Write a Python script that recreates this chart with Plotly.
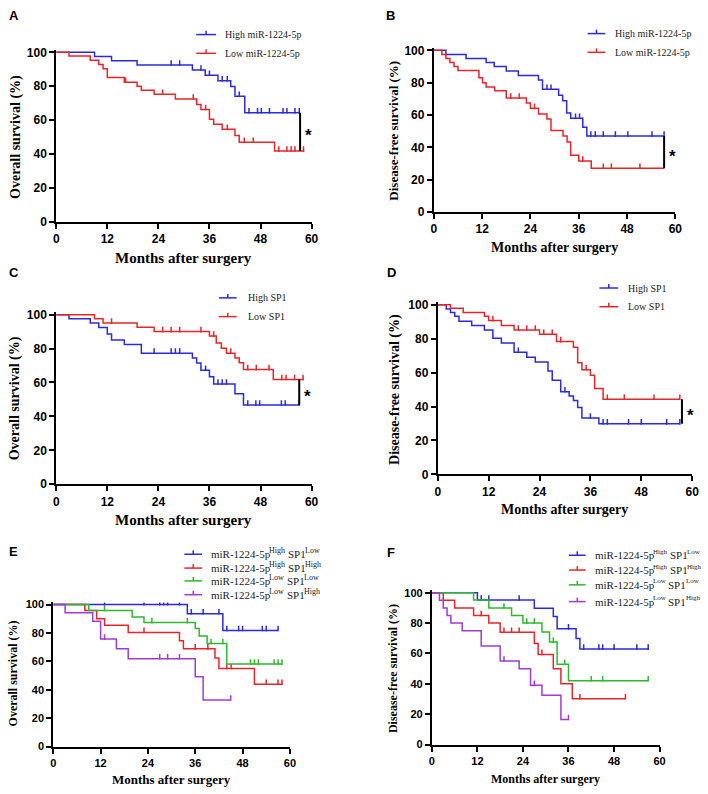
import plotly.graph_objects as go

W, H = 708, 794

BLUE = '#2b2bdc'
RED = '#e5262b'
GREEN = '#2fb82f'
PURPLE = '#a03ad8'

MONTH_TICKS = [0, 12, 24, 36, 48, 60]
PCT_TICKS = [0, 20, 40, 60, 80, 100]

# ---------------- Panel A : Overall survival, miR-1224-5p ----------------
A_high_t = [9, 13, 19, 32, 35, 38, 41, 42, 44.3]
A_high_s = [97.5, 95, 92.5, 89.6, 86.5, 83.2, 79.9, 74.1, 64.4]
A_high_c = [27, 29, 34, 36, 39, 40.2, 43, 45.3, 47.3, 48.2, 50.1, 53.3, 54.2, 56.1, 57.1]
A_high_end = 57.3
A_low_t = [3, 8, 10, 11, 12, 16, 19, 20, 23, 28, 33, 34, 36, 37, 39, 42, 43, 51.3]
A_low_s = [97.9, 95.4, 92.8, 90.3, 85.1, 82.4, 80, 77.6, 75.3, 72.5, 69.2, 66.3, 60.5, 57.6, 54.7, 50.9, 47, 41.8]
A_low_c = [16.3, 25, 32.2, 35.1, 40.2, 44.2, 46.3, 52.3, 54.2, 55.2, 56.1, 58.1]
A_low_end = 58.3
A_sig = [57.3, 64.4, 41.8]

# ---------------- Panel B : Disease-free survival, miR-1224-5p ----------------
B_high_t = [3, 8, 13, 15, 18, 21, 26, 27, 31, 32, 33, 34, 37, 38]
B_high_s = [97.5, 95, 92.5, 90, 87.2, 84.5, 81.7, 76, 72.3, 68.8, 61.3, 58, 52.5, 47]
B_high_c = [28.1, 29.1, 35.2, 36.2, 39, 40.1, 42.1, 45.1, 48.2, 54.2, 57.2]
B_high_end = 57.2
B_low_t = [2, 3, 4, 5, 6, 11.2, 12.1, 13, 15.1, 18, 23, 24, 26, 28.1, 29.1, 32.1, 33.1, 34, 36, 39.1]
B_low_s = [97.5, 95, 92.5, 90, 87.5, 83, 80, 77.4, 75, 70.5, 67.4, 64.2, 60.7, 57.6, 50.5, 47, 43.4, 35.2, 31.6, 27.1]
B_low_c = [19.1, 21.2, 25, 37, 42.1, 44.1, 51.2]
B_low_end = 57.2
B_sig = [57.2, 47, 27.1]

# ---------------- Panel C : Overall survival, SP1 ----------------
C_high_t = [3, 8, 10, 12, 13, 16, 20, 32, 33, 34, 36, 37, 42, 44]
C_high_s = [97.5, 95, 92.4, 88.6, 85, 82.4, 77.3, 74.4, 71.5, 67.2, 63.4, 59.1, 53.3, 46.7]
C_high_c = [23, 27, 28, 29, 35.1, 38, 39, 40, 45, 46.9, 47.8, 52.9, 53.8, 57.1]
C_high_end = 57.1
C_low_t = [9, 11, 19, 23, 36, 37.6, 38.8, 40, 42, 43, 44, 51]
C_low_s = [97.5, 95, 92.5, 90, 87.4, 83.3, 80.2, 77.3, 74.4, 71.7, 67.6, 61.8]
C_low_c = [13, 25, 27, 29, 34, 37, 41, 45, 47, 50, 53, 54, 56, 58]
C_low_end = 58.2
C_sig = [57.1, 61.8, 46.7]

# ---------------- Panel D : Disease-free survival, SP1 ----------------
D_high_t = [2, 3, 4, 5, 8, 11, 13, 15, 18, 21, 23, 26, 27, 29, 31, 32, 33, 34, 38]
D_high_s = [97.5, 95.5, 93.2, 90.3, 87.8, 85.1, 80.3, 77.4, 72, 69, 66.2, 60.9, 55.5, 48.7, 46.2, 43.5, 39.5, 33.3, 29.8]
D_high_c = [19, 30, 36, 39, 40, 45, 48, 54, 57.1]
D_high_end = 57.1
D_low_t = [3, 6, 11, 12, 15, 18, 24, 28, 32, 33, 34, 36, 37, 39]
D_low_s = [97.9, 95.5, 93.2, 90.7, 87.8, 85.1, 82.6, 78.3, 74.9, 65.8, 61.7, 58.4, 50.7, 44.3]
D_low_c = [13, 19, 21, 23, 25, 27, 29, 35, 40, 44, 51, 57.1]
D_low_end = 57.1
D_sig = [57.6, 44.3, 29.8]

# ---------------- Panel E : Overall survival, combined ----------------
E_hl_t = [34, 43]
E_hl_s = [93.5, 81.8]
E_hl_c = [13, 23, 27, 28, 29, 32, 35, 38, 42, 44, 47, 48, 53, 54, 57]
E_hl_end = 57
E_hh_t = [8, 11, 13, 19, 32, 33, 41, 42, 51]
E_hh_s = [95.8, 90, 85.5, 80.4, 74.6, 68.8, 62.4, 55, 43.9]
E_hh_c = [23, 36, 39.2, 44, 45.1, 54, 57, 58]
E_hh_end = 58.2
E_ll_t = [9, 20, 23, 36, 37, 39, 44]
E_ll_s = [95.8, 91.2, 87.3, 83.1, 77.8, 72.6, 58.2]
E_ll_c = [13, 25, 34, 40, 43, 50, 51, 52, 56, 57, 58]
E_ll_end = 58.2
E_lh_t = [3, 10, 12, 16, 19, 36, 38]
E_lh_s = [94.2, 88.2, 75.7, 68.8, 61.9, 49.2, 32.8]
E_lh_c = [13, 27, 29, 32, 45]
E_lh_end = 45

# ---------------- Panel F : Disease-free survival, combined ----------------
F_hl_t = [12, 27, 32, 33, 38, 39]
F_hl_s = [95.2, 89.8, 84.4, 76.2, 69.8, 62.9]
F_hl_c = [13, 15, 23, 36, 40, 44, 45, 48, 54, 57]
F_hl_end = 57
F_hh_t = [3, 6, 11, 15, 18, 27, 28, 32, 34, 37]
F_hh_s = [95, 90, 85, 80, 74, 66.5, 59.4, 49.9, 40, 30.2]
F_hh_c = [13, 19, 21, 23, 29, 39, 51]
F_hh_end = 51
F_ll_t = [11, 15, 21, 24, 29, 31, 33, 36]
F_ll_s = [95.2, 90, 85, 80, 74.1, 67.6, 52.9, 42.1]
F_ll_c = [19, 25, 27, 32, 35, 42, 45, 57]
F_ll_end = 57
F_lh_t = [2, 3, 4, 5, 8, 13, 18, 23, 26, 29, 34]
F_lh_s = [95, 90, 85, 80, 75, 65, 55, 50, 39, 32.5, 16.5]
F_lh_c = [19, 27, 36]
F_lh_end = 36

NAMES_MIR = ['High miR-1224-5p', 'Low miR-1224-5p']
NAMES_SP1 = ['High SP1', 'Low SP1']
# combined groups: (base, superscript, base, superscript)
NAMES_COMB = [('miR-1224-5p', 'High', 'SP1', 'Low'),
              ('miR-1224-5p', 'High', 'SP1', 'High'),
              ('miR-1224-5p', 'Low', 'SP1', 'Low'),
              ('miR-1224-5p', 'Low', 'SP1', 'High')]

OS_TITLE = 'Overall survival (%)'
DFS_TITLE = 'Disease-free survival (%)'
X_TITLE = 'Months after surgery'

# pixel layout per panel (style only)
panels = [
    dict(letter='A', letpos=(4, 12), x0=54, x60=313, y0=221, y100=49,
         curves=[(A_high_t, A_high_s, A_high_c, A_high_end, BLUE),
                 (A_low_t, A_low_s, A_low_c, A_low_end, RED)],
         names=NAMES_MIR, sig=A_sig, ytitle=OS_TITLE,
         xt=(183, 258, 15), yt=(13, 135, 14), tick=12,
         leg=dict(lx=(196, 216), tx=223, rows=[31, 50], size=10)),
    dict(letter='B', letpos=(386, 12), x0=437, x60=682, y0=211, y100=47,
         curves=[(B_high_t, B_high_s, B_high_c, B_high_end, BLUE),
                 (B_low_t, B_low_s, B_low_c, B_low_end, RED)],
         names=NAMES_MIR, sig=B_sig, ytitle=DFS_TITLE,
         xt=(559, 247, 14), yt=(396, 128, 13), tick=12,
         leg=dict(lx=(593, 611), tx=619, rows=[30, 49], size=10)),
    dict(letter='C', letpos=(4, 272), x0=54, x60=313, y0=487, y100=315,
         curves=[(C_high_t, C_high_s, C_high_c, C_high_end, BLUE),
                 (C_low_t, C_low_s, C_low_c, C_low_end, RED)],
         names=NAMES_SP1, sig=C_sig, ytitle=OS_TITLE,
         xt=(183, 523, 15), yt=(13, 400, 14), tick=12,
         leg=dict(lx=(219, 237), tx=246, rows=[298, 317], size=10)),
    dict(letter='D', letpos=(387, 272), x0=441, x60=699, y0=477, y100=305,
         curves=[(D_high_t, D_high_s, D_high_c, D_high_end, BLUE),
                 (D_low_t, D_low_s, D_low_c, D_low_end, RED)],
         names=NAMES_SP1, sig=D_sig, ytitle=DFS_TITLE,
         xt=(570, 513, 14), yt=(397, 391, 14), tick=12,
         leg=dict(lx=(605, 624), tx=632, rows=[288, 307], size=10)),
    dict(letter='E', letpos=(4, 555), x0=51, x60=291, y0=753, y100=609,
         curves=[(E_hl_t, E_hl_s, E_hl_c, E_hl_end, BLUE),
                 (E_hh_t, E_hh_s, E_hh_c, E_hh_end, RED),
                 (E_ll_t, E_ll_s, E_ll_c, E_ll_end, GREEN),
                 (E_lh_t, E_lh_s, E_lh_c, E_lh_end, PURPLE)],
         names=NAMES_COMB, sig=None, ytitle=OS_TITLE,
         xt=(171, 786, 13), yt=(10, 679, 12), tick=11,
         leg=dict(lx=(184, 202), tx=209, rows=[558, 572, 585, 599], size=11, sup=8)),
    dict(letter='F', letpos=(387, 556), x0=435, x60=666, y0=751, y100=597,
         curves=[(F_hl_t, F_hl_s, F_hl_c, F_hl_end, BLUE),
                 (F_hh_t, F_hh_s, F_hh_c, F_hh_end, RED),
                 (F_ll_t, F_ll_s, F_ll_c, F_ll_end, GREEN),
                 (F_lh_t, F_lh_s, F_lh_c, F_lh_end, PURPLE)],
         names=NAMES_COMB, sig=None, ytitle=DFS_TITLE,
         xt=(550, 786, 12), yt=(395, 674, 12), tick=11,
         leg=dict(lx=(574, 591), tx=598, rows=[559, 574, 589, 606], size=11, sup=7)),
]

# Times/Liberation Serif advance widths (em) for laying out superscript legend text
TW = {'m': .778, 'i': .278, 'R': .667, '-': .333, '1': .5, '2': .5, '4': .5, '5': .5,
      'p': .5, ' ': .25, 'S': .556, 'P': .556, 'H': .722, 'g': .5, 'h': .5,
      'L': .611, 'o': .5, 'w': .722}


def text_w(s, size):
    return sum(TW.get(ch, .5) for ch in s) * size


def surv_at(times, values, t):
    v = 100
    for te, sv in zip(times, values):
        if te <= t:
            v = sv
    return v


def px_x(p):
    return p / W


def px_y(p):
    return 1 - p / H


def text_ann(xp, yp, text, size, family='Liberation Serif', color='#222222', anchor='left'):
    return dict(x=px_x(xp), y=px_y(yp), xref='paper', yref='paper', text=text,
                showarrow=False, xanchor=anchor, yanchor='middle',
                font=dict(family=family, size=size, color=color))


fig = go.Figure()
shapes = []
annotations = []
layout_axes = {}
YTOP = 101.5

for i, p in enumerate(panels, start=1):
    suffix = '' if i == 1 else str(i)
    xname, yname = 'x' + suffix, 'y' + suffix
    ppu = (p['y0'] - p['y100']) / 100.0
    top_px = p['y100'] - (YTOP - 100) * ppu
    tickfont = dict(family='Liberation Sans', size=p['tick'], color='black', weight='bold')
    layout_axes['xaxis' + suffix] = dict(
        domain=[px_x(p['x0']), px_x(p['x60'])], range=[0, 60], anchor=yname,
        tickvals=MONTH_TICKS, showline=True, linewidth=2, linecolor='black',
        ticks='outside', ticklen=5, tickwidth=2, tickcolor='black',
        showgrid=False, zeroline=False, tickfont=tickfont)
    layout_axes['yaxis' + suffix] = dict(
        domain=[px_y(p['y0']), px_y(top_px)], range=[0, YTOP], anchor=xname,
        tickvals=PCT_TICKS, showline=True, linewidth=2, linecolor='black',
        ticks='outside', ticklen=5, tickwidth=2, tickcolor='black',
        showgrid=False, zeroline=False, tickfont=tickfont)

    off = 2.0 / ppu  # censor tick sits just above the curve
    for (t, s, c, end, col), name in zip(p['curves'], p['names']):
        label = name if isinstance(name, str) else '%s%s %s%s' % name
        fig.add_trace(go.Scatter(
            x=[0] + list(t) + [end], y=[100] + list(s) + [s[-1]],
            mode='lines', line=dict(color=col, width=1.5, shape='hv'),
            xaxis=xname, yaxis=yname, name=label,
            showlegend=False, hoverinfo='skip'))
        fig.add_trace(go.Scatter(
            x=list(c), y=[surv_at(t, s, ci) + off for ci in c],
            mode='markers', marker=dict(symbol='line-ns', size=4, color=col,
                                        line=dict(color=col, width=1.5)),
            xaxis=xname, yaxis=yname, name=label + ' (censored)',
            showlegend=False, hoverinfo='skip'))

    if p['sig'] is not None:
        sx, sy1, sy2 = p['sig']
        fig.add_trace(go.Scatter(
            x=[sx, sx], y=[sy1, sy2], mode='lines',
            line=dict(color='black', width=2), xaxis=xname, yaxis=yname,
            showlegend=False, hoverinfo='skip'))
        annotations.append(dict(
            x=sx + 2.0, y=(sy1 + sy2) / 2, xref=xname, yref=yname, text='<b>*</b>',
            showarrow=False, xanchor='center', yanchor='middle', yshift=-4,
            font=dict(family='Liberation Sans', size=17, color='black')))

    # panel letter
    annotations.append(text_ann(p['letpos'][0], p['letpos'][1], '<b>%s</b>' % p['letter'],
                                13, family='Liberation Sans', color='black'))
    # axis titles
    xt = p['xt']
    annotations.append(text_ann(xt[0], xt[1], '<b>%s</b>' % X_TITLE, xt[2],
                                color='black', anchor='center'))
    yt = p['yt']
    ya = text_ann(yt[0], yt[1], '<b>%s</b>' % p['ytitle'], yt[2], color='black', anchor='center')
    ya['textangle'] = -90
    annotations.append(ya)

    # legend (drawn by hand, Prism style)
    lg = p['leg']
    for (t, s, c, end, col), name, row in zip(p['curves'], p['names'], lg['rows']):
        x0, x1 = lg['lx']
        shapes.append(dict(type='line', xref='paper', yref='paper',
                           x0=px_x(x0), x1=px_x(x1), y0=px_y(row), y1=px_y(row),
                           line=dict(color=col, width=1.5)))
        xm = (x0 + x1) / 2
        shapes.append(dict(type='line', xref='paper', yref='paper',
                           x0=px_x(xm), x1=px_x(xm), y0=px_y(row), y1=px_y(row - 4),
                           line=dict(color=col, width=1.5)))
        if isinstance(name, str):
            annotations.append(text_ann(lg['tx'], row, name, lg['size']))
        else:
            b1, s1, b2, s2 = name
            fs, ss = lg['size'], lg['sup']
            xcur = lg['tx']
            annotations.append(text_ann(xcur, row, b1, fs))
            xcur += text_w(b1, fs)
            annotations.append(text_ann(xcur, row - 3.5, s1, ss))
            xcur += text_w(s1, ss) + text_w(' ', fs)
            annotations.append(text_ann(xcur, row, b2, fs))
            xcur += text_w(b2, fs)
            annotations.append(text_ann(xcur, row - 3.5, s2, ss))

fig.update_layout(
    width=W, height=H, margin=dict(l=0, r=0, t=0, b=0),
    paper_bgcolor='white', plot_bgcolor='white', showlegend=False,
    shapes=shapes, annotations=annotations, **layout_axes)

fig.write_html('out.html', config={'displayModeBar': False},
               post_script="document.body.style.margin='0px';")
